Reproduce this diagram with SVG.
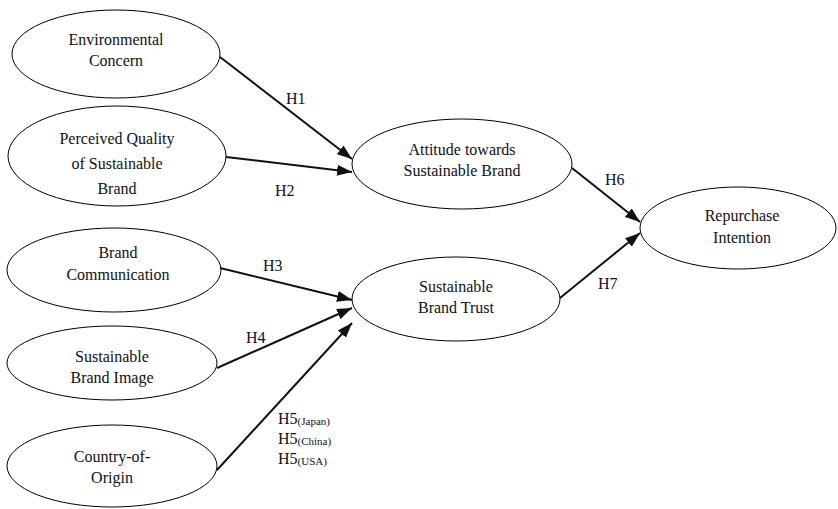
<svg xmlns="http://www.w3.org/2000/svg" width="838" height="509" viewBox="0 0 838 509">
<style>
.n ellipse{fill:#fff;stroke:#000;stroke-width:1}
text{font-family:"Liberation Serif","Times New Roman",serif;font-size:16px;fill:#111}
.c{text-anchor:middle}
.e line{stroke:#111;stroke-width:2;marker-end:url(#ah)}
.s{font-size:11px}
</style>
<defs>
<marker id="ah" markerUnits="userSpaceOnUse" markerWidth="15" markerHeight="11" refX="15" refY="5.5" orient="auto">
<path d="M0,0 L15,5.5 L0,11 z" fill="#111"/>
</marker>
</defs>
<g id="n1" class="n"><ellipse cx="116" cy="54" rx="104" ry="44"/><text class="c" x="116" y="45">Environmental</text><text class="c" x="116" y="66">Concern</text></g>
<g id="n2" class="n"><ellipse cx="117" cy="156" rx="109" ry="50"/><text class="c" x="117" y="144">Perceived Quality</text><text class="c" x="117" y="169">of Sustainable</text><text class="c" x="117" y="194">Brand</text></g>
<g id="n3" class="n"><ellipse cx="114" cy="270" rx="107" ry="42"/><text class="c" x="118" y="258">Brand</text><text class="c" x="118" y="280">Communication</text></g>
<g id="n4" class="n"><ellipse cx="112" cy="363" rx="105" ry="37"/><text class="c" x="112" y="362">Sustainable</text><text class="c" x="112" y="383">Brand Image</text></g>
<g id="n5" class="n"><ellipse cx="112" cy="466" rx="105" ry="41"/><text class="c" x="112" y="462">Country-of-</text><text class="c" x="112" y="483">Origin</text></g>
<g id="n6" class="n"><ellipse cx="462" cy="164" rx="110" ry="45"/><text class="c" x="462" y="155">Attitude towards</text><text class="c" x="462" y="176">Sustainable Brand</text></g>
<g id="n7" class="n"><ellipse cx="456" cy="299" rx="104" ry="42"/><text class="c" x="456" y="292">Sustainable</text><text class="c" x="456" y="313">Brand Trust</text></g>
<g id="n8" class="n"><ellipse cx="738" cy="228" rx="98" ry="41"/><text class="c" x="742" y="221">Repurchase</text><text class="c" x="742" y="243">Intention</text></g>
<g id="edges" class="e">
<line x1="220" y1="57" x2="352" y2="159"/>
<line x1="226" y1="157" x2="352" y2="172"/>
<line x1="220" y1="268" x2="352" y2="300"/>
<line x1="217" y1="368" x2="352" y2="308"/>
<line x1="217" y1="470" x2="352" y2="323"/>
<line x1="572" y1="168" x2="640" y2="222"/>
<line x1="560" y1="298" x2="640" y2="233"/>
</g>
<g id="labels">
<text x="286" y="104">H1</text>
<text x="275" y="196">H2</text>
<text x="263" y="271">H3</text>
<text x="246" y="343">H4</text>
<text x="605" y="185">H6</text>
<text x="598" y="289">H7</text>
<text x="278" y="424">H5<tspan class="s" dy="1">(Japan)</tspan></text>
<text x="278" y="444">H5<tspan class="s" dy="1">(China)</tspan></text>
<text x="278" y="464">H5<tspan class="s" dy="1">(USA)</tspan></text>
</g>
</svg>
